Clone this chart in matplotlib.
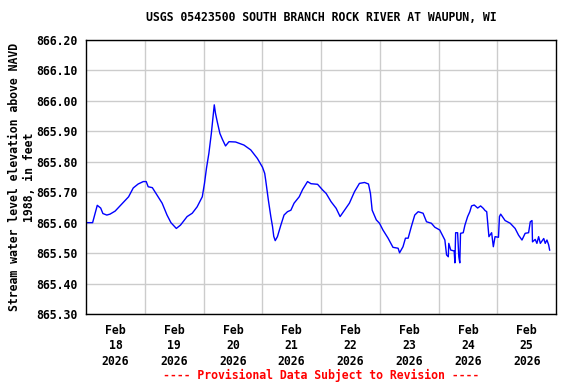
import matplotlib
matplotlib.use("Agg")
import matplotlib.pyplot as plt
import numpy as np
import pandas as pd

# Hours since 2026-02-18 00:00 and gage elevation (ft)
hours = [0, 2.7, 4.6, 6.0, 6.9, 8.5, 9.8, 11.9, 13.9, 17.4, 19.3, 21.3, 23.4, 24.6, 25.4,
         27.1, 29.0, 31.1, 33.1, 34.7, 36.9, 38.6, 41.3, 43.4, 45.4, 47.5, 48.4, 49.2, 50.2,
         51.2, 52.0, 52.4, 52.9, 53.6, 54.7, 55.7, 57.0, 58.4, 61.1, 64.5, 67.3, 70.0, 72.1,
         73.0, 73.4, 74.5, 75.5, 76.2, 76.7, 77.3, 78.2, 79.6, 80.9, 82.3, 83.7, 85.0, 87.1,
         88.5, 90.5, 91.9, 94.6, 96.7, 98.1, 100.1, 102.2, 103.8, 105.6, 107.6, 109.7, 111.7,
         113.8, 115.4, 116.2, 116.9, 118.6, 119.9, 121.3, 123.4, 125.4, 127.5, 128.1, 129.5,
         130.5, 131.6, 132.9, 134.3, 135.7, 137.7, 139.1,
         141.1, 142.5, 144.5, 145.2, 146.6, 147.3, 148.0, 148.2, 149.0, 150.4, 150.7, 151.0,
         151.8, 152.3, 152.7, 153.0, 154.1, 154.8, 155.9, 156.8, 157.5, 158.6, 160.0, 161.2,
         162.3, 163.0, 163.7, 164.6, 165.7, 166.4, 167.1, 168.5, 168.9, 169.4, 171.2, 173.3,
         175.3, 176.7, 178.1, 179.4, 180.8, 181.5, 182.2, 182.4, 183.5, 184.2, 184.9, 185.6,
         187.0, 187.6, 188.3, 189.0, 189.4]
elev = [865.600, 865.600, 865.657, 865.648, 865.630, 865.625, 865.628, 865.638, 865.655,
        865.685, 865.714, 865.727, 865.735, 865.735, 865.718, 865.715, 865.691, 865.664,
        865.625, 865.600, 865.581, 865.592, 865.620, 865.631, 865.652, 865.685, 865.729,
        865.778, 865.828, 865.893, 865.954, 865.987, 865.959, 865.932, 865.893, 865.874,
        865.852, 865.866, 865.865, 865.855, 865.839, 865.811, 865.782, 865.762, 865.740,
        865.674, 865.620, 865.587, 865.555, 865.541, 865.554, 865.592, 865.625, 865.636,
        865.641, 865.664, 865.685, 865.709, 865.735, 865.728, 865.726, 865.707, 865.696,
        865.669, 865.647, 865.620, 865.641, 865.664, 865.702, 865.729, 865.732, 865.727,
        865.696, 865.641, 865.609, 865.598, 865.576, 865.549, 865.519, 865.516, 865.501,
        865.521, 865.549, 865.549, 865.587, 865.625, 865.636, 865.631, 865.603,
        865.598, 865.585, 865.576, 865.565, 865.543, 865.494, 865.488, 865.532, 865.510,
        865.507, 865.468, 865.567, 865.567, 865.488, 865.468, 865.565, 865.567, 865.592,
        865.620, 865.636, 865.655, 865.658, 865.648, 865.655, 865.647, 865.640, 865.636,
        865.554, 865.567, 865.521, 865.554, 865.552, 865.620, 865.628, 865.607, 865.598,
        865.581, 865.559, 865.543, 865.565, 865.567, 865.603, 865.607, 865.537, 865.545,
        865.532, 865.554, 865.532, 865.548, 865.532, 865.543, 865.527, 865.510]

start = pd.Timestamp("2026-02-18 00:00")
end = pd.Timestamp("2026-02-26 00:00")
times = start + pd.to_timedelta(hours, unit="h")

y_ticks = [865.30, 865.40, 865.50, 865.60, 865.70, 865.80, 865.90, 866.00, 866.10, 866.20]
day_labels = ["Feb\n18\n2026", "Feb\n19\n2026", "Feb\n20\n2026", "Feb\n21\n2026",
              "Feb\n22\n2026", "Feb\n23\n2026", "Feb\n24\n2026", "Feb\n25\n2026"]

font = "DejaVu Sans Mono"
fs = 8.3

fig = plt.figure(figsize=(5.76, 3.84), dpi=100)
ax = fig.add_axes([86/576, 1-314/384, (556-86)/576, (314-40)/384])

ax.plot(times, elev, color="#0000ff", linewidth=1.0)

ax.set_xlim(start, end)
ax.set_ylim(865.30, 866.20)
ax.set_yticks(y_ticks)
ax.set_yticklabels([f"{v:.2f}" for v in y_ticks], fontfamily=font, fontweight="bold", fontsize=fs)

midnights = pd.date_range("2026-02-18", periods=9, freq="D")
noons = midnights[:-1] + pd.Timedelta(hours=12)
ax.set_xticks(noons)
ax.set_xticklabels(day_labels, fontfamily=font, fontweight="bold", fontsize=fs, linespacing=1.25)
ax.set_xticks(midnights[1:-1], minor=True)
ax.grid(True, which="minor", axis="x", color="#cccccc", linewidth=1.0)
ax.grid(True, which="major", axis="y", color="#cccccc", linewidth=1.0)
ax.tick_params(axis="both", which="both", length=0)
ax.tick_params(axis="x", pad=7)
ax.tick_params(axis="y", pad=6)
for s in ax.spines.values():
    s.set_linewidth(1.0)
    s.set_color("black")

ax.set_title("USGS 05423500 SOUTH BRANCH ROCK RIVER AT WAUPUN, WI", fontfamily=font,
             fontweight="bold", fontsize=fs, pad=14)
ax.set_ylabel("Stream water level elevation above NAVD\n1988, in feet", fontfamily=font,
              fontweight="bold", fontsize=fs, linespacing=1.2, labelpad=0)
fig.text(321/576, 1-375/384, "---- Provisional Data Subject to Revision ----", color="red",
         ha="center", va="center", fontfamily=font, fontweight="bold", fontsize=fs)

fig.savefig("out.png", dpi=100)
